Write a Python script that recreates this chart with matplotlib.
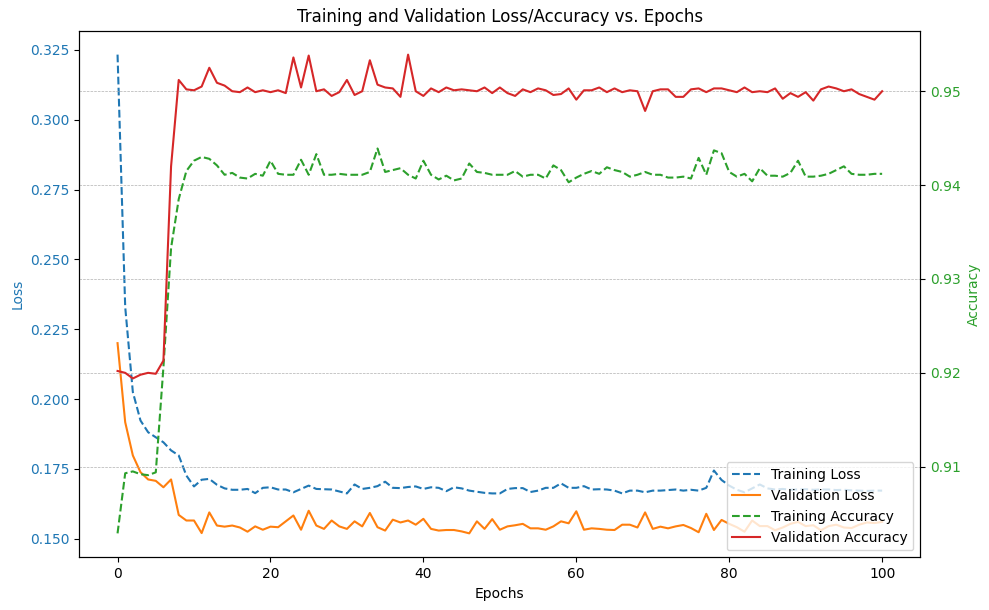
import matplotlib
matplotlib.use("Agg")
import matplotlib.pyplot as plt
import numpy as np

epochs = list(range(101))

train_loss = [
    0.3233, 0.2330, 0.2025, 0.1923, 0.1881, 0.1863, 0.1845, 0.1816, 0.1798, 0.1726,
    0.1687, 0.1711, 0.1714, 0.1693, 0.1680, 0.1675, 0.1675, 0.1678, 0.1663, 0.1682,
    0.1684, 0.1676, 0.1676, 0.1666, 0.1678, 0.1690, 0.1678, 0.1677, 0.1676, 0.1669,
    0.1662, 0.1694, 0.1678, 0.1682, 0.1688, 0.1704, 0.1682, 0.1681, 0.1685, 0.1687,
    0.1678, 0.1684, 0.1682, 0.1670, 0.1684, 0.1680, 0.1672, 0.1668, 0.1664, 0.1662,
    0.1662, 0.1678, 0.1681, 0.1681, 0.1667, 0.1672, 0.1682, 0.1682, 0.1698, 0.1682,
    0.1682, 0.1688, 0.1676, 0.1677, 0.1676, 0.1672, 0.1662, 0.1672, 0.1672, 0.1666,
    0.1672, 0.1672, 0.1674, 0.1676, 0.1672, 0.1675, 0.1672, 0.1682, 0.1744, 0.1710,
    0.1690, 0.1675, 0.1666, 0.1680, 0.1694, 0.1680, 0.1676, 0.1678, 0.1675, 0.1676,
    0.1677, 0.1675, 0.1676, 0.1676, 0.1674, 0.1675, 0.1673, 0.1672, 0.1671, 0.1672,
    0.1672,
]

val_loss = [
    0.2200, 0.1917, 0.1798, 0.1738, 0.1712, 0.1707, 0.1684, 0.1712, 0.1585, 0.1565,
    0.1565, 0.1520, 0.1594, 0.1547, 0.1543, 0.1547, 0.1540, 0.1525, 0.1544, 0.1532,
    0.1543, 0.1541, 0.1562, 0.1583, 0.1532, 0.1600, 0.1547, 0.1535, 0.1565, 0.1544,
    0.1535, 0.1562, 0.1544, 0.1592, 0.1541, 0.1529, 0.1568, 0.1558, 0.1565, 0.1550,
    0.1571, 0.1535, 0.1529, 0.1531, 0.1531, 0.1526, 0.1519, 0.1562, 0.1535, 0.1570,
    0.1532, 0.1544, 0.1548, 0.1553, 0.1537, 0.1537, 0.1532, 0.1544, 0.1562, 0.1555,
    0.1598, 0.1532, 0.1537, 0.1535, 0.1532, 0.1531, 0.1550, 0.1550, 0.1540, 0.1594,
    0.1535, 0.1543, 0.1537, 0.1544, 0.1549, 0.1538, 0.1523, 0.1589, 0.1531, 0.1567,
    0.1553, 0.1541, 0.1525, 0.1565, 0.1545, 0.1545, 0.1530, 0.1540, 0.1553, 0.1560,
    0.1545, 0.1548, 0.1530, 0.1545, 0.1550, 0.1540, 0.1538, 0.1550, 0.1558, 0.1556,
    0.1560,
]

train_acc = [
    0.9029, 0.9093, 0.9095, 0.9092, 0.9091, 0.9094, 0.9206, 0.9333, 0.9385, 0.9415,
    0.9426, 0.9430, 0.9428, 0.9421, 0.9411, 0.9413, 0.9408, 0.9407, 0.9412, 0.9410,
    0.9426, 0.9412, 0.9411, 0.9411, 0.9427, 0.9411, 0.9433, 0.9411, 0.9411, 0.9412,
    0.9411, 0.9411, 0.9411, 0.9414, 0.9439, 0.9414, 0.9416, 0.9418, 0.9411, 0.9407,
    0.9426, 0.9411, 0.9406, 0.9410, 0.9405, 0.9407, 0.9423, 0.9414, 0.9413, 0.9411,
    0.9411, 0.9411, 0.9415, 0.9409, 0.9411, 0.9411, 0.9407, 0.9421, 0.9416, 0.9403,
    0.9408, 0.9412, 0.9415, 0.9412, 0.9419, 0.9416, 0.9414, 0.9409, 0.9411, 0.9414,
    0.9411, 0.9411, 0.9408, 0.9408, 0.9409, 0.9407, 0.9429, 0.9411, 0.9437, 0.9434,
    0.9414, 0.9409, 0.9412, 0.9404, 0.9418, 0.9410, 0.9410, 0.9409, 0.9413, 0.9426,
    0.9409, 0.9409, 0.9410, 0.9412, 0.9416, 0.9420, 0.9412, 0.9411, 0.9411, 0.9412,
    0.9412,
]

val_acc = [
    0.9202, 0.9200, 0.9194, 0.9198, 0.9200, 0.9199, 0.9213, 0.9420, 0.9512, 0.9502,
    0.9501, 0.9505, 0.9525, 0.9509, 0.9506, 0.9500, 0.9499, 0.9504, 0.9499, 0.9501,
    0.9499, 0.9501, 0.9498, 0.9536, 0.9504, 0.9538, 0.9500, 0.9502, 0.9495, 0.9499,
    0.9512, 0.9496, 0.9500, 0.9533, 0.9507, 0.9504, 0.9503, 0.9494, 0.9539, 0.9500,
    0.9495, 0.9503, 0.9499, 0.9504, 0.9501, 0.9502, 0.9501, 0.9500, 0.9504, 0.9498,
    0.9504, 0.9498, 0.9495, 0.9502, 0.9499, 0.9503, 0.9501, 0.9496, 0.9497, 0.9503,
    0.9491, 0.9501, 0.9501, 0.9504, 0.9499, 0.9503, 0.9499, 0.9501, 0.9500, 0.9479,
    0.9500, 0.9502, 0.9502, 0.9494, 0.9494, 0.9502, 0.9503, 0.9499, 0.9503, 0.9503,
    0.9501, 0.9499, 0.9504, 0.9499, 0.9500, 0.9499, 0.9503, 0.9492, 0.9498, 0.9494,
    0.9499, 0.9490, 0.9502, 0.9505, 0.9503, 0.9500, 0.9502, 0.9497, 0.9494, 0.9491,
    0.9500,
]

fig, ax1 = plt.subplots(figsize=(9.89, 6.10), dpi=100)
fig.subplots_adjust(left=0.0802, right=0.9306, top=0.9497, bottom=0.0864)

l1, = ax1.plot(epochs, train_loss, color="tab:blue", linestyle="--", label="Training Loss")
l2, = ax1.plot(epochs, val_loss, color="tab:orange", linestyle="-", label="Validation Loss")
ax1.set_xlabel("Epochs")
ax1.set_ylabel("Loss", color="tab:blue")
ax1.tick_params(axis="y", labelcolor="tab:blue")

ax2 = ax1.twinx()
l3, = ax2.plot(epochs, train_acc, color="tab:green", linestyle="--", label="Training Accuracy")
l4, = ax2.plot(epochs, val_acc, color="tab:red", linestyle="-", label="Validation Accuracy")
ax2.set_ylabel("Accuracy", color="tab:green")
ax2.tick_params(axis="y", labelcolor="tab:green")
ax2.grid(True, linestyle="--", linewidth=0.5)

ax1.set_title("Training and Validation Loss/Accuracy vs. Epochs")
ax2.legend([l1, l2, l3, l4], [l.get_label() for l in [l1, l2, l3, l4]], loc="lower right")

fig.savefig("out.png", dpi=100)
